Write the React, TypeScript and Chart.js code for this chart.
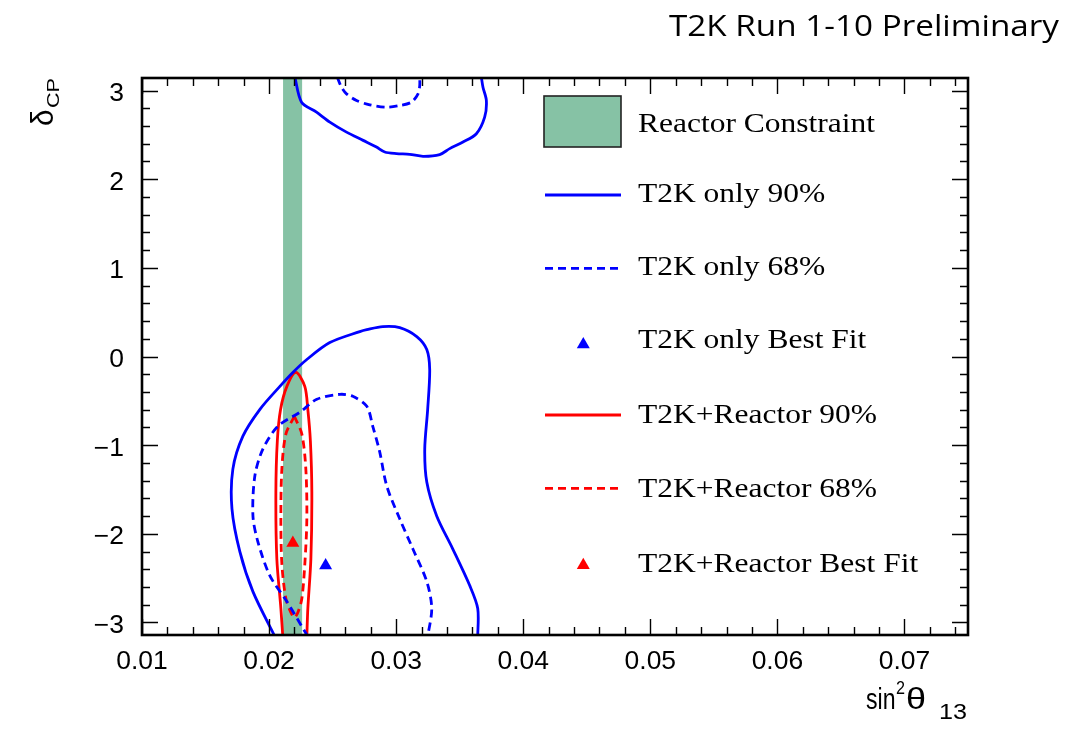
import React, { useEffect, useRef } from "react";
import { Chart, registerables } from "chart.js";

Chart.register(...registerables);

const PI = Math.PI;

// Axis ranges and ticks
const X_MIN = 0.01;
const X_MAX = 0.075;
const Y_MIN = -PI;
const Y_MAX = PI;
const xTickValues = [0.01, 0.02, 0.03, 0.04, 0.05, 0.06, 0.07];
const xTickLabels = ["0.01", "0.02", "0.03", "0.04", "0.05", "0.06", "0.07"];
const yTickValues = [-3, -2, -1, 0, 1, 2, 3];
const yTickLabels = ["\u22123", "\u22122", "\u22121", "0", "1", "2", "3"];
const X_MINOR_STEP = 0.002;
const Y_MINOR_STEP = 0.2;

// Reactor constraint band (sin^2 theta13 range, spans all delta_CP)
const reactorX = [0.0211, 0.0211, 0.0226, 0.0226];
const reactorY = [-PI, PI, PI, -PI];

// T2K only 90% (upper island, wraps from -pi)
const t2k90UpperX = [0.02203, 0.022555, 0.023734, 0.02478, 0.026093, 0.027398, 0.028451, 0.029104, 0.030024, 0.031069, 0.032115, 0.033428, 0.034214, 0.035259, 0.036313, 0.036965, 0.037099, 0.036832, 0.036706];
const t2k90UpperY = [3.15, 2.869, 2.756, 2.644, 2.531, 2.438, 2.363, 2.307, 2.289, 2.281, 2.258, 2.278, 2.345, 2.419, 2.513, 2.7, 2.888, 3.037, 3.15];

// T2K only 90% (lower region)
const t2k90LowerX = [0.02046, 0.01873, 0.0177, 0.01708, 0.01715, 0.01794, 0.01928, 0.02085, 0.02187, 0.02297, 0.02478, 0.02714, 0.02769, 0.02895, 0.03028, 0.03162, 0.03241, 0.03264, 0.03248, 0.03225, 0.03241, 0.03319, 0.03445, 0.03579, 0.03642, 0.03642];
const t2k90LowerY = [-3.16, -2.652, -2.202, -1.719, -1.27, -0.899, -0.596, -0.337, -0.18, -0.034, 0.157, 0.281, 0.303, 0.337, 0.326, 0.225, 0.079, -0.146, -0.596, -1.045, -1.416, -1.798, -2.169, -2.584, -2.843, -3.16];

// T2K only 68% (upper island)
const t2k68UpperX = [0.025369, 0.0257, 0.026093, 0.026879, 0.027925, 0.029237, 0.030283, 0.031203, 0.031722, 0.031855, 0.031855];
const t2k68UpperY = [3.15, 3.037, 2.963, 2.888, 2.839, 2.812, 2.831, 2.869, 2.963, 3.056, 3.15];

// T2K only 68% (lower region)
const t2k68LowerX = [0.02305, 0.0214, 0.02006, 0.01912, 0.01873, 0.01888, 0.01951, 0.02069, 0.02242, 0.02376, 0.02557, 0.02659, 0.02769, 0.02816, 0.02871, 0.02926, 0.03028, 0.03131, 0.03241, 0.0328, 0.03248];
const t2k68LowerY = [-3.16, -2.764, -2.472, -2.09, -1.798, -1.348, -1.045, -0.787, -0.629, -0.483, -0.427, -0.449, -0.562, -0.787, -1.079, -1.461, -1.831, -2.169, -2.539, -2.843, -3.16];

// T2K+Reactor 90%
const comb90X = [0.02108, 0.02093, 0.02061, 0.020535, 0.02065, 0.0209, 0.0214, 0.02211, 0.02281, 0.02305, 0.02325, 0.023365, 0.02329, 0.02305, 0.02297];
const comb90Y = [-3.16, -2.843, -2.281, -1.528, -0.95, -0.6, -0.337, -0.18, -0.337, -0.6, -0.95, -1.528, -2.281, -2.843, -3.16];

// T2K+Reactor 68% (closed)
const comb68X = [0.021989, 0.022579, 0.022893, 0.022972, 0.022814, 0.022579, 0.022264, 0.021989, 0.021714, 0.021321, 0.021006, 0.020928, 0.021006, 0.021321, 0.021989];
const comb68Y = [-0.674, -0.876, -1.27, -1.831, -2.337, -2.73, -2.888, -2.944, -2.888, -2.73, -2.337, -1.831, -1.27, -0.876, -0.674];

// Best fit points
const t2kBestX = [0.02445];
const t2kBestY = [-2.358];
const combBestX = [0.02187];
const combBestY = [-2.103];

const BLUE = "#0000ff";
const RED = "#ff0000";
const GREEN = "#86c2a5";

const pts = (xs: number[], ys: number[]) => xs.map((x, i) => ({ x, y: ys[i] }));

function scaledText(
  ctx: CanvasRenderingContext2D,
  text: string,
  x: number,
  y: number,
  font: string,
  sx: number,
  align: "left" | "center" | "right"
) {
  ctx.save();
  ctx.font = font;
  const w = ctx.measureText(text).width * sx;
  let x0 = x;
  if (align === "center") x0 = x - w / 2;
  else if (align === "right") x0 = x - w;
  ctx.translate(x0, y);
  ctx.scale(sx, 1);
  ctx.textAlign = "left";
  ctx.textBaseline = "alphabetic";
  ctx.fillStyle = "#000";
  ctx.fillText(text, 0, 0);
  ctx.restore();
}

function fitScale(ctx: CanvasRenderingContext2D, text: string, font: string, width: number) {
  ctx.save();
  ctx.font = font;
  const w = ctx.measureText(text).width;
  ctx.restore();
  return width / w;
}

const decorPlugin = {
  id: "decor",
  afterDatasetsDraw(chart: any) {
    const ctx: CanvasRenderingContext2D = chart.ctx;
    const { left, right, top, bottom } = chart.chartArea;
    const xs = chart.scales.x;
    const ys = chart.scales.y;
    ctx.save();
    ctx.strokeStyle = "#000";
    ctx.lineWidth = 1.4;
    ctx.beginPath();
    // x ticks (bottom and top, inward)
    const nx = Math.floor((X_MAX - X_MIN) / X_MINOR_STEP + 1e-6);
    for (let i = 0; i <= nx; i++) {
      const v = X_MIN + i * X_MINOR_STEP;
      const major = i % 5 === 0;
      const len = major ? 16 : 8;
      const px = Math.round(xs.getPixelForValue(v)) + 0.5;
      ctx.moveTo(px, bottom);
      ctx.lineTo(px, bottom - len);
      ctx.moveTo(px, top);
      ctx.lineTo(px, top + len);
    }
    // y ticks (left and right, inward)
    for (let k = -15; k <= 15; k++) {
      const v = k * Y_MINOR_STEP;
      if (v < Y_MIN || v > Y_MAX) continue;
      const major = k % 5 === 0;
      const len = major ? 16 : 8;
      const py = Math.round(ys.getPixelForValue(v)) + 0.5;
      ctx.moveTo(left, py);
      ctx.lineTo(left + len, py);
      ctx.moveTo(right, py);
      ctx.lineTo(right - len, py);
    }
    ctx.stroke();
    ctx.lineWidth = 2.6;
    ctx.strokeRect(left, top, right - left, bottom - top);
    ctx.restore();
  },
  afterDraw(chart: any) {
    const ctx: CanvasRenderingContext2D = chart.ctx;
    const xs = chart.scales.x;
    const ys = chart.scales.y;
    const { left, bottom } = chart.chartArea;

    // Tick labels
    const tickFont = '25px "Liberation Sans", Arial, sans-serif';
    const tickSx = fitScale(ctx, "0.01", tickFont, 51.5);
    xTickValues.forEach((v, i) => {
      scaledText(ctx, xTickLabels[i], xs.getPixelForValue(v), bottom + 34.3, tickFont, tickSx, "center");
    });
    yTickValues.forEach((v, i) => {
      scaledText(ctx, yTickLabels[i], left - 18, ys.getPixelForValue(v) + 10.5, tickFont, tickSx, "right");
    });

    // X axis title: sin^2 theta_13
    const sinFont = '30px "Liberation Sans", Arial, sans-serif';
    scaledText(ctx, "sin", 866, 708.5, sinFont, fitScale(ctx, "sin", sinFont, 29.5), "left");
    const supFont = '18px "Liberation Sans", Arial, sans-serif';
    scaledText(ctx, "2", 896, 694, supFont, fitScale(ctx, "2", supFont, 9), "left");
    const thFont = '29px "Liberation Sans", Arial, sans-serif';
    scaledText(ctx, "\u03b8", 906, 708.5, thFont, fitScale(ctx, "\u03b8", thFont, 20), "left");
    const subFont = '22px "Liberation Sans", Arial, sans-serif';
    scaledText(ctx, "13", 939, 718.5, subFont, fitScale(ctx, "13", subFont, 28), "left");

    // Y axis title: delta_CP (rotated)
    const dFont = '31px "Liberation Sans", Arial, sans-serif';
    ctx.save();
    ctx.translate(53, 126);
    ctx.rotate(-Math.PI / 2);
    scaledText(ctx, "\u03b4", 0, 0, dFont, fitScale(ctx, "\u03b4", dFont, 16.5), "left");
    ctx.restore();
    const cpFont = '17px "Liberation Sans", Arial, sans-serif';
    ctx.save();
    ctx.translate(59, 108);
    ctx.rotate(-Math.PI / 2);
    scaledText(ctx, "CP", 0, 0, cpFont, fitScale(ctx, "CP", cpFont, 30), "left");
    ctx.restore();

    // Title
    const titleFont = '29px "Open Sans", "Noto Sans", sans-serif';
    scaledText(ctx, "T2K Run 1-10 Preliminary", 669, 36, titleFont, fitScale(ctx, "T2K Run 1-10 Preliminary", titleFont, 390), "left");

    // Legend
    const legFont = '27.5px "Liberation Serif", "Times New Roman", serif';
    const legSx = fitScale(ctx, "Reactor Constraint", legFont, 237);
    const rows = [
      { sym: 121.5, base: 131.7 },
      { sym: 195, base: 202 },
      { sym: 268.3, base: 275 },
      { sym: 344.4, base: 348.3 },
      { sym: 415, base: 423 },
      { sym: 488.3, base: 496.7 },
      { sym: 565.2, base: 571.7 },
    ];
    const legendDatasets = chart.data.datasets.filter((d: any) => d.inLegend);
    legendDatasets.forEach((d: any, i: number) => {
      const r = rows[i];
      if (!r) return;
      ctx.save();
      if (d.legendKind === "box") {
        ctx.fillStyle = d.backgroundColor;
        ctx.fillRect(544, r.sym - 25.5, 77, 51);
        ctx.strokeStyle = "#222";
        ctx.lineWidth = 1.6;
        ctx.strokeRect(544, r.sym - 25.5, 77, 51);
      } else if (d.legendKind === "line") {
        ctx.strokeStyle = d.borderColor;
        ctx.lineWidth = d.borderWidth;
        ctx.setLineDash(d.borderDash || []);
        ctx.beginPath();
        ctx.moveTo(545, r.sym);
        ctx.lineTo(621, r.sym);
        ctx.stroke();
      } else if (d.legendKind === "marker") {
        const rad = d.pointRadius;
        const cx = 583.3;
        ctx.fillStyle = d.backgroundColor;
        ctx.beginPath();
        let a = 0;
        ctx.moveTo(cx + Math.sin(a) * rad, r.sym - Math.cos(a) * rad);
        a += (2 * Math.PI) / 3;
        ctx.lineTo(cx + Math.sin(a) * rad, r.sym - Math.cos(a) * rad);
        a += (2 * Math.PI) / 3;
        ctx.lineTo(cx + Math.sin(a) * rad, r.sym - Math.cos(a) * rad);
        ctx.closePath();
        ctx.fill();
      }
      ctx.restore();
      scaledText(ctx, d.label, 638, r.base, legFont, legSx, "left");
    });
  },
};

export default function App() {
  const canvasRef = useRef<HTMLCanvasElement | null>(null);

  useEffect(() => {
    const canvas = canvasRef.current;
    if (!canvas) return;
    const lineDs = (label: string, xs: number[], ys: number[], color: string, dashed: boolean, inLegend: boolean) => ({
      label,
      data: pts(xs, ys),
      showLine: true,
      borderColor: color,
      backgroundColor: color,
      borderWidth: 2.8,
      borderDash: dashed ? [8, 5] : [],
      pointRadius: 0,
      tension: 0.3,
      fill: false,
      order: 1,
      inLegend,
      legendKind: "line",
    });
    const chart = new Chart(canvas, {
      type: "scatter",
      data: {
        datasets: [
          {
            label: "Reactor Constraint",
            data: pts(reactorX, reactorY),
            showLine: true,
            borderWidth: 0,
            borderColor: GREEN,
            backgroundColor: GREEN,
            pointRadius: 0,
            tension: 0,
            fill: "shape",
            order: 10,
            inLegend: true,
            legendKind: "box",
          } as any,
          lineDs("T2K only 90%", t2k90LowerX, t2k90LowerY, BLUE, false, true) as any,
          lineDs("T2K only 68%", t2k68LowerX, t2k68LowerY, BLUE, true, true) as any,
          {
            label: "T2K only Best Fit",
            data: pts(t2kBestX, t2kBestY),
            showLine: false,
            pointStyle: "triangle",
            pointRadius: 7.5,
            pointBorderWidth: 0,
            borderWidth: 0,
            backgroundColor: BLUE,
            borderColor: BLUE,
            order: 0,
            inLegend: true,
            legendKind: "marker",
          } as any,
          lineDs("T2K+Reactor 90%", comb90X, comb90Y, RED, false, true) as any,
          lineDs("T2K+Reactor 68%", comb68X, comb68Y, RED, true, true) as any,
          {
            label: "T2K+Reactor Best Fit",
            data: pts(combBestX, combBestY),
            showLine: false,
            pointStyle: "triangle",
            pointRadius: 7.5,
            pointBorderWidth: 0,
            borderWidth: 0,
            backgroundColor: RED,
            borderColor: RED,
            order: 0,
            inLegend: true,
            legendKind: "marker",
          } as any,
          lineDs("T2K only 90% (wrap)", t2k90UpperX, t2k90UpperY, BLUE, false, false) as any,
          lineDs("T2K only 68% (wrap)", t2k68UpperX, t2k68UpperY, BLUE, true, false) as any,
        ],
      },
      options: {
        responsive: false,
        maintainAspectRatio: false,
        animation: false,
        devicePixelRatio: 1,
        events: [],
        layout: { padding: { left: 0, top: 78, right: 110, bottom: 0 } },
        plugins: {
          legend: { display: false },
          tooltip: { enabled: false },
          title: { display: false },
        },
        scales: {
          x: {
            type: "linear",
            min: X_MIN,
            max: X_MAX,
            grid: { display: false, drawTicks: false },
            border: { display: false },
            ticks: { display: false },
            afterFit: (s: any) => {
              s.height = 96;
            },
          },
          y: {
            type: "linear",
            min: Y_MIN,
            max: Y_MAX,
            grid: { display: false, drawTicks: false },
            border: { display: false },
            ticks: { display: false },
            afterFit: (s: any) => {
              s.width = 142;
            },
          },
        },
      } as any,
      plugins: [decorPlugin],
    });
    return () => chart.destroy();
  }, []);

  return (
    <div style={{ position: "absolute", left: 0, top: 0, width: 1078, height: 731, background: "#fff" }}>
      <canvas ref={canvasRef} width={1078} height={731} style={{ display: "block" }} />
    </div>
  );
}
